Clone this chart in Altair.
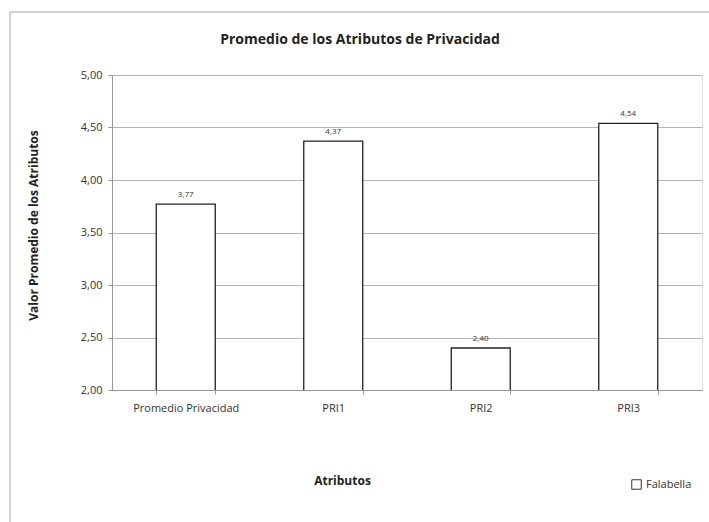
import altair as alt
import pandas as pd

categories = ["Promedio Privacidad", "PRI1", "PRI2", "PRI3"]
values = [3.77, 4.37, 2.40, 4.54]
series = ["Falabella"] * 4

df = pd.DataFrame({"Atributo": categories, "Valor": values, "Serie": series})

FONT = "Open Sans"
W, H = 590, 315

base = alt.Chart(df)

bars = base.mark_bar(stroke="#222222", strokeWidth=1.3, clip=True).encode(
    x=alt.X("Atributo:N", sort=categories,
            scale=alt.Scale(paddingInner=0.6, paddingOuter=0.3),
            axis=alt.Axis(title="Atributos", labelAngle=0, labelFontSize=11,
                          labelColor="#333333", labelFont=FONT, labelPadding=8,
                          titleFont=FONT, titleFontSize=12, titleFontWeight="bold",
                          titleColor="#222222", titleX=230, titleY=85,
                          domainColor="#999999", tickColor="#999999",
                          tickSize=4, tickBand="extent", grid=False)),
    y=alt.Y("Valor:Q",
            scale=alt.Scale(domain=[2, 5], zero=False, nice=False),
            axis=alt.Axis(title="Valor Promedio de los Atributos",
                          values=[2, 2.5, 3, 3.5, 4, 4.5, 5],
                          labelExpr="replace(format(datum.value, '.2f'), '.', ',')",
                          labelFontSize=11, labelColor="#333333", labelFont=FONT,
                          labelPadding=6,
                          titleFont=FONT, titleFontSize=12, titleFontWeight="bold",
                          titleColor="#222222", titleX=-72, titleY=150,
                          gridColor="#b5b5b5", gridWidth=1.2,
                          domainColor="#999999", tickColor="#999999", tickSize=4)),
    color=alt.Color("Serie:N",
                    scale=alt.Scale(domain=["Falabella"], range=["white"]),
                    legend=alt.Legend(title=None, orient="none", legendX=519,
                                      legendY=404, symbolType="square",
                                      symbolStrokeColor="#333333", symbolStrokeWidth=1,
                                      symbolSize=90, labelFont=FONT, labelFontSize=11,
                                      labelColor="#333333")),
)

labels = base.transform_calculate(
    lab="replace(format(datum.Valor, '.2f'), '.', ',')"
).mark_text(dy=-9, fontSize=8, font=FONT, color="#333333").encode(
    x=alt.X("Atributo:N", sort=categories),
    y="Valor:Q",
    text="lab:N",
)

border_top = alt.Chart(df).mark_rule(color="#d0d0d0", strokeWidth=2).encode(
    x=alt.value(-102), x2=alt.value(600), y=alt.value(-63))
border_left = alt.Chart(df).mark_rule(color="#d0d0d0", strokeWidth=2).encode(
    x=alt.value(-102), y=alt.value(-63), y2=alt.value(450))

chart = alt.layer(border_top, border_left, bars, labels).properties(
    width=W, height=H,
    title=alt.TitleParams("Promedio de los Atributos de Privacidad", font=FONT,
                          fontSize=14, fontWeight="bold", color="#222222",
                          anchor="middle", frame="group", dx=-47, offset=31, dy=67),
    autosize=alt.AutoSizeParams(type="none"),
    padding={"left": 112, "top": 75, "right": 7, "bottom": 132},
).configure_view(stroke=None).configure(background="white")

chart.save("out.html", embed_options={"renderer": "svg", "actions": False})
